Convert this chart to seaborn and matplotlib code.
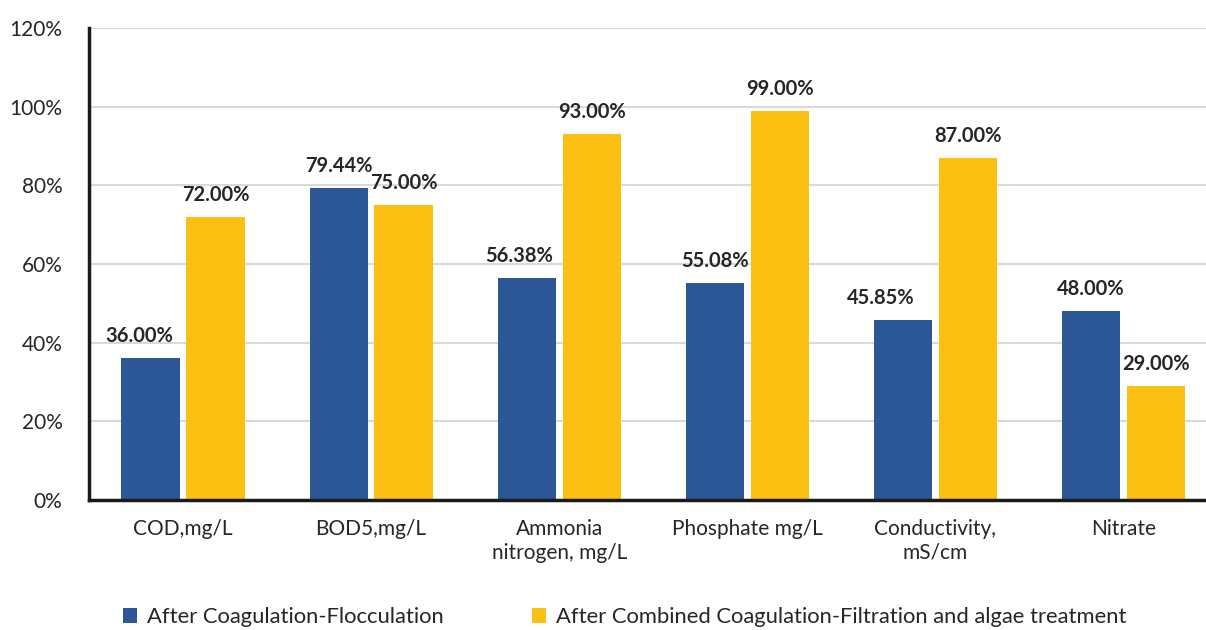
import matplotlib
matplotlib.use("Agg")
import matplotlib.pyplot as plt
import seaborn as sns
import pandas as pd
from matplotlib.patches import Patch

categories = ["COD,mg/L", "BOD5,mg/L", "Ammonia\nnitrogen, mg/L", "Phosphate mg/L",
              "Conductivity,\nmS/cm", "Nitrate"]
series_names = ["After Coagulation-Flocculation",
                "After Combined Coagulation-Filtration and algae treatment"]
coag_floc = [36.00, 79.44, 56.38, 55.08, 45.85, 48.00]
combined = [72.00, 75.00, 93.00, 99.00, 87.00, 29.00]
yticks = [0, 20, 40, 60, 80, 100, 120]
colors = ["#2B5797", "#FCC012"]
# horizontal nudges (pixels) of the value labels, as placed in the original
label_nudges = [[-11, 0, -8, 0, -22, 0], [0, 0, 0, 0, 0, 0]]

df = pd.DataFrame({
    "category": categories * 2,
    "series": [series_names[0]] * len(categories) + [series_names[1]] * len(categories),
    "value": coag_floc + combined,
})

sns.set_theme(style="white")
plt.rcParams["font.family"] = ["Lato", "DejaVu Sans"]

fig = plt.figure(figsize=(12.06, 6.30), dpi=100)
ax = fig.add_axes([0.0738, 0.2063, 1.0 - 0.0738, 0.9556 - 0.2063])

sns.barplot(data=df, x="category", y="value", hue="series", order=categories,
            hue_order=series_names, palette=colors, width=0.69, gap=0.1,
            saturation=1, legend=False, ax=ax, zorder=3, linewidth=0)

for cont, nudges in zip(ax.containers, label_nudges):
    for rect, v, dx in zip(cont.patches, cont.datavalues, nudges):
        ax.annotate(f"{v:.2f}%", (rect.get_x() + rect.get_width() / 2, rect.get_height()),
                    xytext=(dx, 12), textcoords="offset pixels", ha="center", va="bottom",
                    fontsize=14.5, fontweight="bold", color="#262626", zorder=6)

ax.set_ylim(0, 120)
ax.set_yticks(yticks)
ax.set_yticklabels([f"{t}%" for t in yticks], fontsize=15, color="#262626")
ax.set_xlim(-0.5, 5.438)
ax.tick_params(axis="x", labelsize=15, labelcolor="#262626", pad=14, length=0)
ax.tick_params(axis="y", pad=19, length=0)
ax.set_xlabel("")
ax.set_ylabel("")
ax.yaxis.grid(True, color="#D9D9D9", linewidth=1.5, zorder=0)
ax.set_axisbelow(True)
for s in ["top", "right"]:
    ax.spines[s].set_visible(False)
for s in ["left", "bottom"]:
    ax.spines[s].set_color("#1a1a1a")
    ax.spines[s].set_linewidth(2.5)
    ax.spines[s].set_zorder(5)

handles = [Patch(facecolor=c, edgecolor="none") for c in colors]
fig.legend(handles, series_names, loc="center", bbox_to_anchor=(0.518, 0.02),
           ncol=2, frameon=False, fontsize=15.8, handlelength=0.65, handleheight=0.65,
           handletextpad=0.45, columnspacing=4.0, labelcolor="#262626")

fig.savefig("out.png", dpi=100)
